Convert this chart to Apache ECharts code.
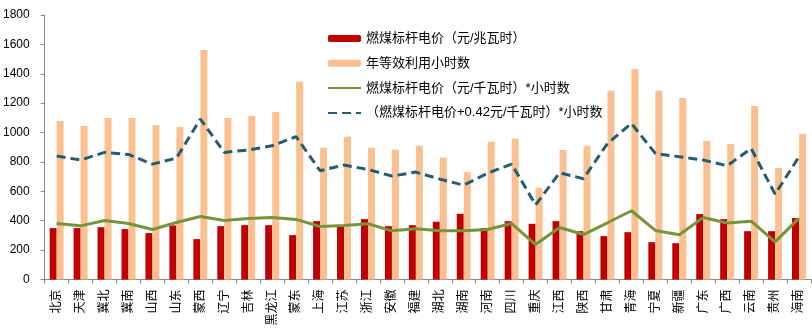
<!DOCTYPE html>
<html>
<head>
<meta charset="utf-8">
<script src="https://cdn.jsdelivr.net/npm/echarts@6/dist/echarts.min.js"></script>
<style>html,body{margin:0;padding:0;background:#fff;}#c{width:812px;height:335px;}</style>
</head>
<body>
<div id="c"></div>
<script>
const categories = ['北京','天津','冀北','冀南','山西','山东','蒙西','辽宁','吉林','黑龙江','蒙东','上海','江苏','浙江','安徽','福建','湖北','湖南','河南','四川','重庆','江西','陕西','甘肃','青海','宁夏','新疆','广东','广西','云南','贵州','海南'];
const coalPrice = [350,350,356,343,316,368,275,363,370,370,302,397,359,411,363,370,393,447,350,397,379,397,329,295,322,254,247,445,411,329,329,418];
const hours = [1078,1044,1099,1099,1051,1037,1562,1099,1112,1140,1346,897,972,897,883,910,829,731,937,958,624,881,910,1285,1432,1285,1235,942,922,1180,758,990];
const revenue = [381,365,402,381,340,388,429,402,415,422,409,361,368,379,331,345,331,331,340,381,238,354,306,386,468,334,304,422,384,397,256,418];
const revenuePlus = [840,813,865,851,785,826,1092,865,881,910,972,740,779,749,704,731,683,642,724,785,508,726,686,926,1062,858,835,813,774,892,581,835];
const yTicks = [0,200,400,600,800,1000,1200,1400,1600,1800];
const names = ['燃煤标杆电价（元/兆瓦时）','年等效利用小时数','燃煤标杆电价（元/千瓦时）*小时数','（燃煤标杆电价+0.42元/千瓦时）*小时数'];

const ff = '"Liberation Sans","Noto Sans CJK SC",sans-serif';
const chart = echarts.init(document.getElementById('c'));
chart.setOption({
  animation: false,
  textStyle: {fontFamily: ff},
  grid: {left: 43, right: 1, top: 15, bottom: 55.5},
  legend: {
    orient: 'vertical', left: 327, top: 32, padding: 0,
    itemWidth: 33, itemHeight: 7, itemGap: 11.8,
    textStyle: {fontSize: 13, color: '#000', fontFamily: ff},
    data: [
      {name: names[0]},
      {name: names[1]},
      {name: names[2], itemStyle: {opacity: 0}},
      {name: names[3], itemStyle: {opacity: 0}}
    ]
  },
  xAxis: {
    type: 'category', data: categories,
    axisLine: {lineStyle: {color: '#868686', width: 1}},
    axisTick: {show: true, length: 4, lineStyle: {color: '#868686'}},
    axisLabel: {rotate: 90, fontSize: 12, color: '#000', margin: 10, interval: 0, fontFamily: ff}
  },
  yAxis: {
    type: 'value', min: yTicks[0], max: yTicks[yTicks.length-1], interval: 200,
    splitLine: {show: false},
    axisLine: {show: true, lineStyle: {color: '#868686'}},
    axisTick: {show: true, inside: false, length: 4, lineStyle: {color: '#868686'}},
    axisLabel: {fontSize: 12, color: '#000', margin: 15, fontFamily: ff, formatter: v => String(v)}
  },
  series: [
    {name: names[0], type: 'bar', data: coalPrice, barWidth: 7, barGap: '0%', itemStyle: {color: '#C00000'}},
    {name: names[1], type: 'bar', data: hours, barWidth: 7, barGap: '0%', itemStyle: {color: '#FAC090'}},
    {name: names[2], type: 'line', data: revenue, symbol: 'none', lineStyle: {color: '#77933C', width: 3}, itemStyle: {color: '#77933C'}},
    {name: names[3], type: 'line', data: revenuePlus, symbol: 'none', lineStyle: {color: '#245D6B', width: 3, type: [9,5]}, itemStyle: {color: '#245D6B'}}
  ]
});
</script>
</body>
</html>
